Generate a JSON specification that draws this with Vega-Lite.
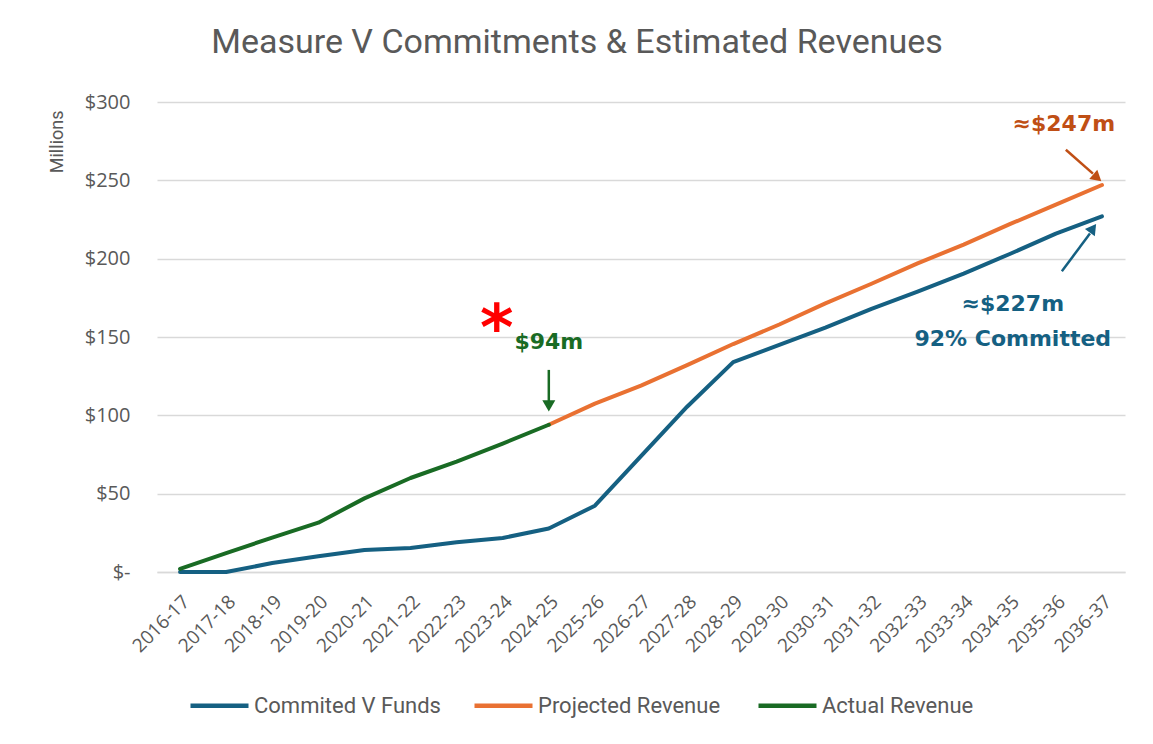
{
  "$schema": "https://vega.github.io/schema/vega-lite/v6.json",
  "width": 968,
  "height": 470,
  "autosize": {"type": "none"},
  "padding": {"left": 157, "top": 102, "right": 28, "bottom": 172},
  "background": "white",
  "config": {"view": {"stroke": null}, "font": "Roboto, sans-serif"},
  "title": {
    "text": "Measure V Commitments & Estimated Revenues",
    "fontSize": 34,
    "fontWeight": "normal",
    "color": "#595959",
    "anchor": "middle",
    "dx": -64,
    "offset": 32,
    "font": "Roboto"
  },
  "layer": [
    {
      "data": {
        "values": [
          {"year": "2016-17", "series": "Commited V Funds", "value": 0},
          {"year": "2017-18", "series": "Commited V Funds", "value": 0},
          {"year": "2018-19", "series": "Commited V Funds", "value": 5.7},
          {"year": "2019-20", "series": "Commited V Funds", "value": 10},
          {"year": "2020-21", "series": "Commited V Funds", "value": 14},
          {"year": "2021-22", "series": "Commited V Funds", "value": 15.3},
          {"year": "2022-23", "series": "Commited V Funds", "value": 19},
          {"year": "2023-24", "series": "Commited V Funds", "value": 21.7},
          {"year": "2024-25", "series": "Commited V Funds", "value": 27.8},
          {"year": "2025-26", "series": "Commited V Funds", "value": 42.3},
          {"year": "2026-27", "series": "Commited V Funds", "value": 74},
          {"year": "2027-28", "series": "Commited V Funds", "value": 105.5},
          {"year": "2028-29", "series": "Commited V Funds", "value": 134},
          {"year": "2029-30", "series": "Commited V Funds", "value": 145},
          {"year": "2030-31", "series": "Commited V Funds", "value": 156},
          {"year": "2031-32", "series": "Commited V Funds", "value": 168},
          {"year": "2032-33", "series": "Commited V Funds", "value": 179},
          {"year": "2033-34", "series": "Commited V Funds", "value": 190.5},
          {"year": "2034-35", "series": "Commited V Funds", "value": 203},
          {"year": "2035-36", "series": "Commited V Funds", "value": 216},
          {"year": "2036-37", "series": "Commited V Funds", "value": 227},
          {"year": "2024-25", "series": "Projected Revenue", "value": 94},
          {"year": "2025-26", "series": "Projected Revenue", "value": 107.5},
          {"year": "2026-27", "series": "Projected Revenue", "value": 119},
          {"year": "2027-28", "series": "Projected Revenue", "value": 132},
          {"year": "2028-29", "series": "Projected Revenue", "value": 145.5},
          {"year": "2029-30", "series": "Projected Revenue", "value": 158},
          {"year": "2030-31", "series": "Projected Revenue", "value": 171.5},
          {"year": "2031-32", "series": "Projected Revenue", "value": 184},
          {"year": "2032-33", "series": "Projected Revenue", "value": 197},
          {"year": "2033-34", "series": "Projected Revenue", "value": 209},
          {"year": "2034-35", "series": "Projected Revenue", "value": 222},
          {"year": "2035-36", "series": "Projected Revenue", "value": 234.5},
          {"year": "2036-37", "series": "Projected Revenue", "value": 247},
          {"year": "2016-17", "series": "Actual Revenue", "value": 2},
          {"year": "2017-18", "series": "Actual Revenue", "value": 12},
          {"year": "2018-19", "series": "Actual Revenue", "value": 22},
          {"year": "2019-20", "series": "Actual Revenue", "value": 31.5},
          {"year": "2020-21", "series": "Actual Revenue", "value": 47},
          {"year": "2021-22", "series": "Actual Revenue", "value": 60},
          {"year": "2022-23", "series": "Actual Revenue", "value": 70.5},
          {"year": "2023-24", "series": "Actual Revenue", "value": 82},
          {"year": "2024-25", "series": "Actual Revenue", "value": 94}
        ]
      },
      "mark": {"type": "line", "strokeWidth": 4, "strokeCap": "round", "strokeJoin": "round"},
      "encoding": {
        "x": {
          "field": "year",
          "type": "ordinal",
          "scale": {"domain": ["2016-17","2017-18","2018-19","2019-20","2020-21","2021-22","2022-23","2023-24","2024-25","2025-26","2026-27","2027-28","2028-29","2029-30","2030-31","2031-32","2032-33","2033-34","2034-35","2035-36","2036-37"]},
          "axis": {
            "title": null,
            "labelAngle": -45,
            "labelFont": "Open Sans",
            "labelFontSize": 19,
            "labelColor": "#595959",
            "ticks": false,
            "domain": true,
            "domainColor": "#d9d9d9",
            "domainWidth": 1.5,
            "grid": false,
            "labelPadding": 20
          }
        },
        "y": {
          "field": "value",
          "type": "quantitative",
          "scale": {"domain": [0, 300]},
          "axis": {
            "title": "Millions",
            "values": [0, 50, 100, 150, 200, 250, 300],
            "labelExpr": "datum.value == 0 ? '$-' : '$' + datum.value",
            "labelFont": "Open Sans",
            "labelFontSize": 20,
            "labelColor": "#595959",
            "labelPadding": 27,
            "ticks": false,
            "domain": false,
            "gridColor": "#d9d9d9",
            "gridWidth": 1.5,
            "titleFont": "Roboto",
            "titleFontSize": 18,
            "titleColor": "#595959",
            "titleFontWeight": "normal",
            "titleAngle": -90,
            "titleX": -100,
            "titleY": 8,
            "titleAlign": "right",
            "titleBaseline": "middle"
          }
        },
        "color": {
          "field": "series",
          "type": "nominal",
          "scale": {"domain": ["Commited V Funds", "Projected Revenue", "Actual Revenue"], "range": ["#156082", "#E97132", "#196B24"]},
          "legend": {
            "orient": "none",
            "legendX": 31,
            "legendY": 572,
            "direction": "horizontal",
            "title": null,
            "symbolType": "stroke",
            "symbolStrokeWidth": 4.5,
            "symbolSize": 3364,
            "labelFont": "Roboto",
            "labelFontSize": 22,
            "labelLimit": 400,
            "labelColor": "#595959",
            "columnPadding": 24,
            "gridAlign": "all",
            "labelOffset": 3
          }
        }
      }
    },
    {
      "data": {"values": [{"year": "2024-25", "value": 147, "label": "$94m"}]},
      "mark": {"type": "text", "font": "DejaVu Sans", "fontWeight": "bold", "fontSize": 22, "color": "#196B24", "baseline": "middle"},
      "encoding": {"x": {"field": "year", "type": "ordinal"}, "y": {"field": "value", "type": "quantitative"}, "text": {"field": "label"}}
    },
    {
      "data": {"values": [{"year": "2023-24", "value": 153.7, "label": "*"}]},
      "mark": {"type": "text", "font": "DejaVu Sans", "fontWeight": "bold", "fontSize": 64, "color": "#FF0000", "baseline": "middle", "dx": -6},
      "encoding": {"x": {"field": "year", "type": "ordinal"}, "y": {"field": "value", "type": "quantitative"}, "text": {"field": "label"}}
    },
    {
      "data": {"values": [{"year": "2035-36", "value": 286, "label": "≈$247m"}]},
      "mark": {"type": "text", "font": "DejaVu Sans", "fontWeight": "bold", "fontSize": 22, "color": "#C04F15", "baseline": "middle", "dx": 8},
      "encoding": {"x": {"field": "year", "type": "ordinal"}, "y": {"field": "value", "type": "quantitative"}, "text": {"field": "label"}}
    },
    {
      "data": {"values": [{"year": "2034-35", "value": 171, "label": "≈$227m"}, {"year": "2034-35", "value": 148.8, "label": "92% Committed"}]},
      "mark": {"type": "text", "font": "DejaVu Sans", "fontWeight": "bold", "fontSize": 22, "color": "#156082", "baseline": "middle", "dx": 3},
      "encoding": {"x": {"field": "year", "type": "ordinal"}, "y": {"field": "value", "type": "quantitative"}, "text": {"field": "label"}}
    },
    {
      "data": {"values": [{"year": "2024-25", "value": 129, "value2": 109}]},
      "mark": {"type": "rule", "strokeWidth": 2.5, "color": "#196B24"},
      "encoding": {"x": {"field": "year", "type": "ordinal"}, "y": {"field": "value", "type": "quantitative"}, "y2": {"field": "value2"}}
    },
    {
      "data": {"values": [{"year": "2024-25", "value": 106}]},
      "mark": {"type": "point", "shape": "triangle-down", "filled": true, "opacity": 1, "size": 170, "color": "#196B24"},
      "encoding": {"x": {"field": "year", "type": "ordinal"}, "y": {"field": "value", "type": "quantitative"}}
    },
    {
      "data": {"values": [{"year": "2035-36", "year2": "2036-37", "value": 269.5, "value2": 254.3}]},
      "mark": {"type": "rule", "strokeWidth": 2.5, "color": "#C04F15", "xOffset": 10, "x2Offset": -9},
      "encoding": {"x": {"field": "year", "type": "ordinal"}, "x2": {"field": "year2"}, "y": {"field": "value", "type": "quantitative"}, "y2": {"field": "value2"}}
    },
    {
      "data": {"values": [{"year": "2036-37", "value": 252.4}]},
      "mark": {"type": "point", "shape": "triangle", "angle": 131, "filled": true, "opacity": 1, "size": 150, "color": "#C04F15", "xOffset": -6},
      "encoding": {"x": {"field": "year", "type": "ordinal"}, "y": {"field": "value", "type": "quantitative"}}
    },
    {
      "data": {"values": [{"year": "2035-36", "year2": "2036-37", "value": 192, "value2": 216}]},
      "mark": {"type": "rule", "strokeWidth": 2.5, "color": "#156082", "xOffset": 6, "x2Offset": -12},
      "encoding": {"x": {"field": "year", "type": "ordinal"}, "x2": {"field": "year2"}, "y": {"field": "value", "type": "quantitative"}, "y2": {"field": "value2"}}
    },
    {
      "data": {"values": [{"year": "2036-37", "value": 218.5}]},
      "mark": {"type": "point", "shape": "triangle", "angle": 36, "filled": true, "opacity": 1, "size": 150, "color": "#156082", "xOffset": -10},
      "encoding": {"x": {"field": "year", "type": "ordinal"}, "y": {"field": "value", "type": "quantitative"}}
    }
  ]
}
